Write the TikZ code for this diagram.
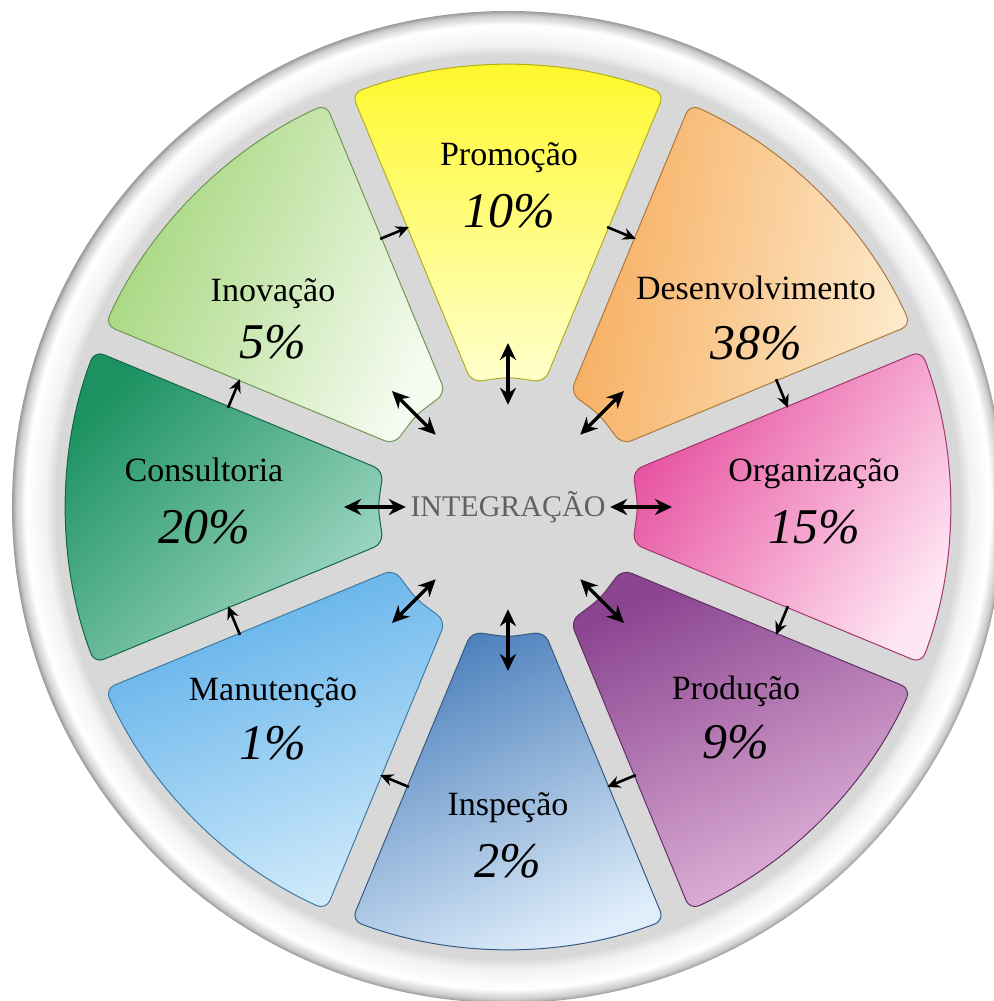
\documentclass[tikz,border=0pt]{standalone}
\usepackage{fontspec}
\setmainfont{Liberation Serif}
\usetikzlibrary{arrows.meta}

\definecolor{diskgray}{RGB}{216,216,216}
\definecolor{promoA}{RGB}{255,248,40}
\definecolor{promoB}{RGB}{255,255,205}
\definecolor{desenA}{RGB}{246,172,92}
\definecolor{desenB}{RGB}{253,234,204}
\definecolor{organA}{RGB}{230,78,158}
\definecolor{organB}{RGB}{255,230,243}
\definecolor{producA}{RGB}{138,68,144}
\definecolor{producB}{RGB}{228,184,220}
\definecolor{inspecA}{RGB}{76,128,188}
\definecolor{inspecB}{RGB}{224,238,251}
\definecolor{manutA}{RGB}{90,174,232}
\definecolor{manutB}{RGB}{208,234,251}
\definecolor{consulA}{RGB}{28,146,98}
\definecolor{consulB}{RGB}{164,217,198}
\definecolor{inovA}{RGB}{162,213,120}
\definecolor{inovB}{RGB}{245,251,240}

\pgfdeclareradialshading{rim}{\pgfpoint{0bp}{0bp}}{color(0bp)=(diskgray); color(22.8bp)=(diskgray); color(23.3bp)=(black!5); color(24.3bp)=(white); color(24.8bp)=(black!20); color(25bp)=(black!40); color(50bp)=(black!40)}

\begin{document}
\begin{tikzpicture}[x=1pt,y=1pt,
    sector/.style={
% The corners:
rounded corners=10pt,
% The border:
line width=1pt,
},
    title/.style={
% The text:
font=\fontsize{34}{40}\selectfont,
anchor=base,
},
    share/.style={
% The text:
font=\fontsize{50}{56}\selectfont\itshape,
anchor=base,
},
    hub/.style={
% The shape:
circle,
% The size:
minimum size=204pt, inner sep=0pt,
% The text:
text=black!62, font=\fontsize{30}{34}\selectfont,
},
    twoway/.style={line width=3.2pt, arrows={Stealth[length=17pt,width=16pt]-Stealth[length=17pt,width=16pt]}},
    oneway/.style={line width=2.6pt, arrows={-Stealth[length=13pt,width=12pt]}},
]
  \useasboundingbox (-508,-494) rectangle (485,507);
  \shade[shading=rim] (0,0) circle (496);

  \foreach \a/\nm/\pc/\lx/\ny/\py/\ca/\cb/\sa [count=\i] in {
      90/Promoção/10/1/341/279/promoA/promoB/0,
      45/Desenvolvimento/38/248/207/147/desenA/desenB/80,
      0/Organização/15/306/25/-36/organA/organB/55,
      315/Produção/9/228/-192/-251/producA/producB/25,
      270/Inspeção/2/0/-308/-370/inspecA/inspecB/25,
      225/Manutenção/1/-235/-193/-252/manutA/manutB/20,
      180/Consultoria/20/-304/25/-36/consulA/consulB/45,
      135/Inovação/5/-235/205/148/inovA/inovB/65} {
    \path[sector, top color=\ca, bottom color=\cb, shading angle=\sa, draw=\ca!70!black]
      (\a-16.32:130) -- (\a-20.69:442)
      arc[start angle=\a-20.69, end angle=\a+20.69, radius=442]
      -- (\a+16.32:130) -- (\a:130) -- cycle;
    \node[title] (lab\i) at (\lx,\ny) {\nm};
    \node[share] (pct\i) at (\lx,\py) {\pc\%};
  }

  \node[hub] (hub) at (0,0) {INTEGRAÇÃO};

  \foreach \a [count=\i] in {90,45,0,315,270,225,180,135} {
    \coordinate (out\i) at (\a:164);
    \draw[twoway] (hub.\a) -- (out\i);
    \coordinate (from\i) at (\a-19.5:297);
    \coordinate (to\i) at (\a-25.5:297);
    \draw[oneway] (from\i) -- (to\i);
  }
\end{tikzpicture}
\end{document}
